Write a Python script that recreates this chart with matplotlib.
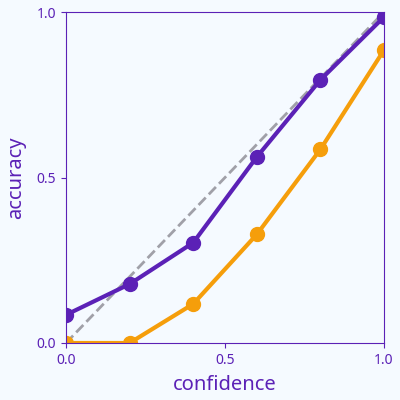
import matplotlib
matplotlib.use('Agg')
import matplotlib.pyplot as plt

plt.rcParams['font.family'] = ['Noto Sans', 'DejaVu Sans']

# ── data ──
confidence = [0.0, 0.2, 0.4, 0.6, 0.8, 1.0]
acc_purple = [0.085, 0.178, 0.303, 0.562, 0.795, 0.985]
acc_orange = [0.0, 0.0, 0.118, 0.328, 0.585, 0.885]
ticks = [0.0, 0.5, 1.0]

PURPLE = '#5b21b6'
ORANGE = '#f59e0b'
BG = '#f5faff'

fig = plt.figure(figsize=(4, 4), dpi=100, facecolor=BG)
ax = fig.add_axes([0.165, 0.1425, 0.795, 0.8275])
ax.set_facecolor(BG)

ax.plot([0, 1], [0, 1], linestyle='--', color='#a0a0a8', linewidth=2, zorder=1)
ax.plot(confidence, acc_orange, color=ORANGE, linewidth=3, marker='o',
        markersize=10, zorder=2)
ax.plot(confidence, acc_purple, color=PURPLE, linewidth=3, marker='o',
        markersize=10, zorder=3)

ax.set_xlim(0, 1)
ax.set_ylim(0, 1)
ax.set_xticks(ticks)
ax.set_yticks(ticks)
ax.set_xticklabels(['%.1f' % t for t in ticks])
ax.set_yticklabels(['%.1f' % t for t in ticks])
ax.tick_params(colors=PURPLE, labelsize=10, labelcolor=PURPLE)
for s in ax.spines.values():
    s.set_color(PURPLE)
ax.set_xlabel('confidence', color=PURPLE, fontsize=14.5, labelpad=5)
ax.set_ylabel('accuracy', color=PURPLE, fontsize=14.5, labelpad=8)

fig.savefig('out.png', dpi=100, facecolor=BG)
